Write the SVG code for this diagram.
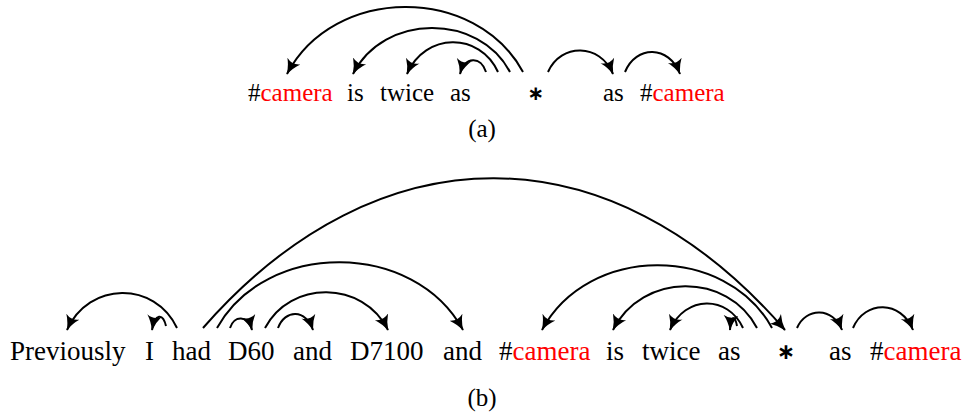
<svg xmlns="http://www.w3.org/2000/svg" width="965" height="417" viewBox="0 0 965 417">
<defs>
<marker id="ah" markerUnits="userSpaceOnUse" markerWidth="16" markerHeight="16" viewBox="0 0 12 12" refX="11" refY="6" orient="auto">
<path d="M0,0.5 Q5,4.3 11.5,6 Q5,7.7 0,11.5 Q3.5,6 0,0.5 Z" fill="#000"/>
</marker>
<style>
.w{font-family:'Liberation Serif','Times New Roman','DejaVu Serif',serif;fill:#000}
.a{font-size:25px}
.b{font-size:27px}
.r{fill:#ff0000}
.st{font-family:'DejaVu Sans',sans-serif;font-weight:bold;text-anchor:middle}
.c{fill:none;stroke:#000;stroke-width:2;marker-end:url(#ah)}
.cap{text-anchor:middle}
</style>
</defs>
<rect width="965" height="417" fill="#fff"/>
<g id="sentence-a" font-family="Liberation Serif, Times New Roman, DejaVu Serif, serif">
<g id="a-camera1"><text class="w a" x="248" y="101">#<tspan class="r">camera</tspan></text></g>
<g id="a-is"><text class="w a" x="347" y="101">is</text></g>
<g id="a-twice"><text class="w a" x="380" y="101">twice</text></g>
<g id="a-as1"><text class="w a" x="450" y="101">as</text></g>
<g id="a-star"><text class="st" font-size="20" x="536" y="100">∗</text></g>
<g id="a-as2"><text class="w a" x="603" y="101">as</text></g>
<g id="a-camera2"><text class="w a" x="640" y="101">#<tspan class="r">camera</tspan></text></g>
<g id="a-caption"><text class="w a cap" x="482" y="137">(a)</text></g>
</g>
<g id="sentence-b" font-family="Liberation Serif, Times New Roman, DejaVu Serif, serif">
<g id="b-previously"><text class="w b" x="10" y="360">Previously</text></g>
<g id="b-i"><text class="w b" x="145" y="360">I</text></g>
<g id="b-had"><text class="w b" x="172" y="360">had</text></g>
<g id="b-d60"><text class="w b" x="228" y="360">D60</text></g>
<g id="b-and1"><text class="w b" x="293" y="360">and</text></g>
<g id="b-d7100"><text class="w b" x="350" y="360">D7100</text></g>
<g id="b-and2"><text class="w b" x="443" y="360">and</text></g>
<g id="b-camera1"><text class="w b" x="499" y="360">#<tspan class="r">camera</tspan></text></g>
<g id="b-is"><text class="w b" x="606" y="360">is</text></g>
<g id="b-twice"><text class="w b" x="642" y="360">twice</text></g>
<g id="b-as1"><text class="w b" x="718" y="360">as</text></g>
<g id="b-star"><text class="st" font-size="22" x="786" y="359">∗</text></g>
<g id="b-as2"><text class="w b" x="829" y="360">as</text></g>
<g id="b-camera2"><text class="w b" x="870" y="360">#<tspan class="r">camera</tspan></text></g>
<g id="b-caption"><text class="w a cap" x="482" y="406">(b)</text></g>
</g>
<g id="connectors">
<path class="c" d="M523,72 C476,-15 334,-15 287,74"/>
<path class="c" d="M510,72 C479,13 384,13 353,74"/>
<path class="c" d="M498,72 C480,32 425,32 407,74"/>
<path class="c" d="M486,72 C481,56 465,56 460,74"/>
<path class="c" d="M548,72 C561,43 600,43 613,74"/>
<path class="c" d="M625,72 C636,45 669,45 680,74"/>
<path class="c" d="M203,328 C378,128 610,128 785,330"/>
<path class="c" d="M217,328 C266,240 414,240 463,330"/>
<path class="c" d="M230,328 C234,315 248,315 252,330"/>
<path class="c" d="M177,328 C155,281 89,281 67,330"/>
<path class="c" d="M166,326 C163,313 155,313 152,330"/>
<path class="c" d="M265,328 C290,280 363,280 388,330"/>
<path class="c" d="M278,328 C285,309 306,309 313,330"/>
<path class="c" d="M772,328 C726,244 588,244 542,330"/>
<path class="c" d="M757,328 C728,272 642,272 613,330"/>
<path class="c" d="M743,328 C728,295 685,295 670,330"/>
<path class="c" d="M737,326 C735,315 731,315 730,330"/>
<path class="c" d="M797,328 C806,307 833,307 842,330"/>
<path class="c" d="M853,328 C865,300 901,300 913,330"/>
</g>
</svg>
